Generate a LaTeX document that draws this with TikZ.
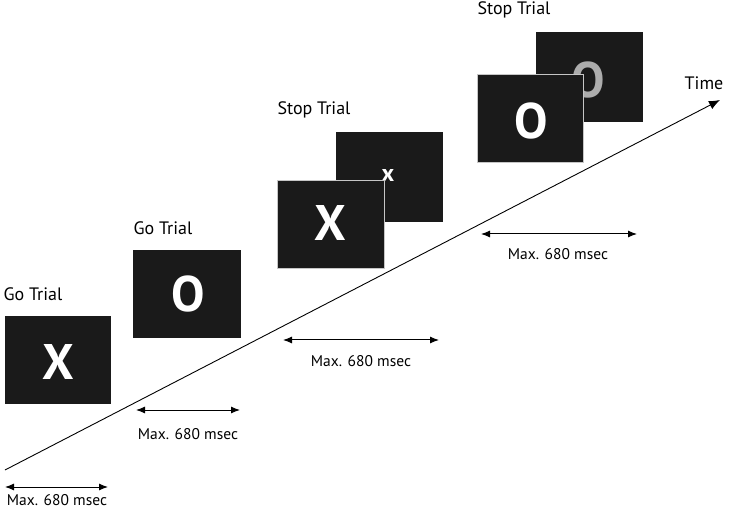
\documentclass[tikz,border=0pt]{standalone}
\usepackage{fontspec}
\setmainfont{PT Sans}
\usetikzlibrary{arrows.meta}
\begin{document}
\begin{tikzpicture}[x=1pt,y=-1pt,
  scr/.style={fill=scrfill,draw=none},
  frontscr/.style={fill=scrfill,draw=gray!45,line width=0.8pt},
  lbl/.style={font=\fontsize{18}{20}\selectfont,inner sep=0pt},
  mx/.style={font=\fontsize{15.5}{18}\selectfont,inner sep=0pt},
  big/.style={font=\fontsize{50}{54}\selectfont\bfseries,text=white,inner sep=0pt},
  dur/.style={{Latex[length=9pt,width=7pt]}-{Latex[length=9pt,width=7pt]},line width=1pt},
  timeline/.style={-{Latex[length=11pt,width=9pt]},line width=0.9pt}]
\definecolor{scrfill}{HTML}{1A1A1A}
\useasboundingbox (0,0) rectangle (729,513);
% Go trial 1
\node[lbl] (l1) at (33,294) {Go Trial};
\fill[scr] (5,316) rectangle (111,404);
\node[big] (s1) at (58,362) {X};
% Go trial 2
\node[lbl] (l2) at (163,228) {Go Trial};
\fill[scr] (133,250) rectangle (241,338);
\node[big] (s2) at (188,294) {O};
% Stop trial 3
\node[lbl] (l3) at (314,110) {Stop Trial};
\fill[scr] (336,132) rectangle (443,222);
\node[font=\fontsize{24}{26}\selectfont\bfseries,text=white,inner sep=0pt] (s3b) at (388,176) {x};
\filldraw[frontscr] (277,180) rectangle (384,268);
\node[big] (s3) at (330,223) {X};
% Stop trial 4
\node[lbl] (l4) at (514,10) {Stop Trial};
\fill[scr] (536,32) rectangle (643,122);
\node[big,text=gray!65] (s4b) at (588,80) {O};
\filldraw[frontscr] (477,74) rectangle (583,162);
\node[big] (s4) at (531,121) {O};
% time axis
\coordinate (t0) at (5,470);
\coordinate (t1) at (720,100);
\draw[timeline] (t0) -- (t1);
\node[lbl] (time) at (704,83) {Time};
% durations
\coordinate (a1) at (5,487); \coordinate (b1) at (108,487);
\draw[dur] (a1) -- (b1);
\node[mx] (m1) at (57,500) {Max. 680 msec};
\coordinate (a2) at (136,410); \coordinate (b2) at (240,410);
\draw[dur] (a2) -- (b2);
\node[mx] (m2) at (188,434) {Max. 680 msec};
\coordinate (a3) at (283,340); \coordinate (b3) at (439,340);
\draw[dur] (a3) -- (b3);
\node[mx] (m3) at (361,361) {Max. 680 msec};
\coordinate (a4) at (481,234); \coordinate (b4) at (637,234);
\draw[dur] (a4) -- (b4);
\node[mx] (m4) at (558,254) {Max. 680 msec};
\end{tikzpicture}
\end{document}
